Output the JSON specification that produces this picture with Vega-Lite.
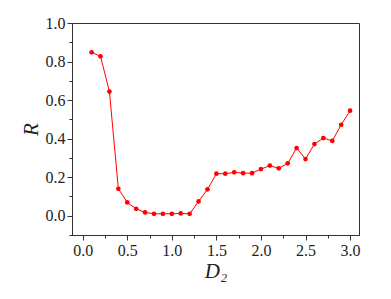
{
  "$schema": "https://vega.github.io/schema/vega-lite/v6.json",
  "width": 287,
  "height": 212,
  "autosize": "none",
  "padding": {"left": 72, "top": 23, "right": 32, "bottom": 64},
  "background": "white",
  "config": {
    "view": {"stroke": "#333333", "strokeWidth": 1},
    "axis": {
      "domainColor": "#333333",
      "tickColor": "#333333",
      "grid": false
    }
  },
  "data": {
    "values": [
      {"D2": 0.1, "R": 0.848}, {"D2": 0.2, "R": 0.827}, {"D2": 0.3, "R": 0.644},
      {"D2": 0.4, "R": 0.140}, {"D2": 0.5, "R": 0.069}, {"D2": 0.6, "R": 0.036},
      {"D2": 0.7, "R": 0.017}, {"D2": 0.8, "R": 0.010}, {"D2": 0.9, "R": 0.010},
      {"D2": 1.0, "R": 0.010}, {"D2": 1.1, "R": 0.012}, {"D2": 1.2, "R": 0.010},
      {"D2": 1.3, "R": 0.074}, {"D2": 1.4, "R": 0.137}, {"D2": 1.5, "R": 0.218},
      {"D2": 1.6, "R": 0.218}, {"D2": 1.7, "R": 0.225}, {"D2": 1.8, "R": 0.221},
      {"D2": 1.9, "R": 0.221}, {"D2": 2.0, "R": 0.242}, {"D2": 2.1, "R": 0.260},
      {"D2": 2.2, "R": 0.246}, {"D2": 2.3, "R": 0.272}, {"D2": 2.4, "R": 0.351},
      {"D2": 2.5, "R": 0.294}, {"D2": 2.6, "R": 0.372}, {"D2": 2.7, "R": 0.403},
      {"D2": 2.8, "R": 0.388}, {"D2": 2.9, "R": 0.472}, {"D2": 3.0, "R": 0.545}
    ]
  },
  "layer": [
    {
      "mark": {"type": "line", "color": "#ff0000", "strokeWidth": 1},
      "encoding": {
        "x": {
          "field": "D2", "type": "quantitative",
          "scale": {"domain": [-0.12, 3.1], "nice": false, "zero": false},
          "axis": {
            "orient": "bottom",
            "values": [0, 0.5, 1, 1.5, 2, 2.5, 3],
            "format": ".1f",
            "tickSize": 5,
            "labelFont": "Liberation Serif",
            "labelFontSize": 16,
            "labelColor": "#222222",
            "labelPadding": 2,
            "title": "D₂",
            "titleFont": "Liberation Serif",
            "titleFontStyle": "italic",
            "titleFontWeight": "normal",
            "titleFontSize": 21,
            "titleColor": "#222222",
            "titlePadding": 2
          }
        },
        "y": {
          "field": "R", "type": "quantitative",
          "scale": {"domain": [-0.1, 1.0], "nice": false, "zero": false},
          "axis": {
            "orient": "left",
            "values": [0, 0.2, 0.4, 0.6, 0.8, 1.0],
            "format": ".1f",
            "tickSize": 5,
            "labelFont": "Liberation Serif",
            "labelFontSize": 16,
            "labelColor": "#222222",
            "labelPadding": 2,
            "title": "R",
            "titleFont": "Liberation Serif",
            "titleFontStyle": "italic",
            "titleFontWeight": "normal",
            "titleFontSize": 21,
            "titleColor": "#222222",
            "titlePadding": 4
          }
        }
      }
    },
    {
      "mark": {"type": "circle", "color": "#ff0000", "opacity": 1, "size": 22},
      "encoding": {
        "x": {
          "field": "D2", "type": "quantitative",
          "axis": {
            "orient": "bottom",
            "values": [0.25, 0.75, 1.25, 1.75, 2.25, 2.75],
            "tickSize": 3,
            "labels": false,
            "domain": false,
            "title": null
          }
        },
        "y": {
          "field": "R", "type": "quantitative",
          "axis": {
            "orient": "left",
            "values": [-0.1, 0.1, 0.3, 0.5, 0.7, 0.9],
            "tickSize": 3,
            "labels": false,
            "domain": false,
            "title": null
          }
        }
      }
    }
  ],
  "resolve": {"axis": {"x": "independent", "y": "independent"}}
}
